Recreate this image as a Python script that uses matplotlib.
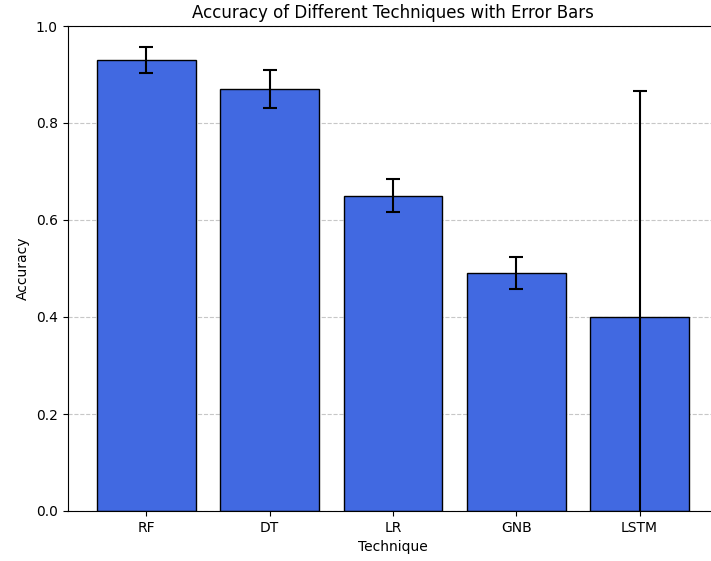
import matplotlib
matplotlib.use("Agg")
import matplotlib.pyplot as plt

techniques = ["RF", "DT", "LR", "GNB", "LSTM"]
accuracy = [0.93, 0.87, 0.65, 0.49, 0.40]
errors = [0.027, 0.04, 0.034, 0.033, 0.467]

fig = plt.figure(figsize=(7.11, 5.61), dpi=100)
# axes run past the right edge of the figure, like the cropped original
ax = fig.add_axes([67.5 / 711, 50 / 561, 651 / 711, 485 / 561])

ax.bar(techniques, accuracy, yerr=errors, capsize=5, color="royalblue",
       edgecolor="black", error_kw={"elinewidth": 1.5, "capthick": 1.5})

ax.set_ylim(0, 1)
ax.set_xlabel("Technique")
ax.set_ylabel("Accuracy")
ax.set_title("Accuracy of Different Techniques with Error Bars")
ax.grid(axis="y", linestyle="--", alpha=0.7)
ax.set_axisbelow(True)
ax.spines["right"].set_visible(False)  # cut off in the original

fig.savefig("out.png", dpi=100)
